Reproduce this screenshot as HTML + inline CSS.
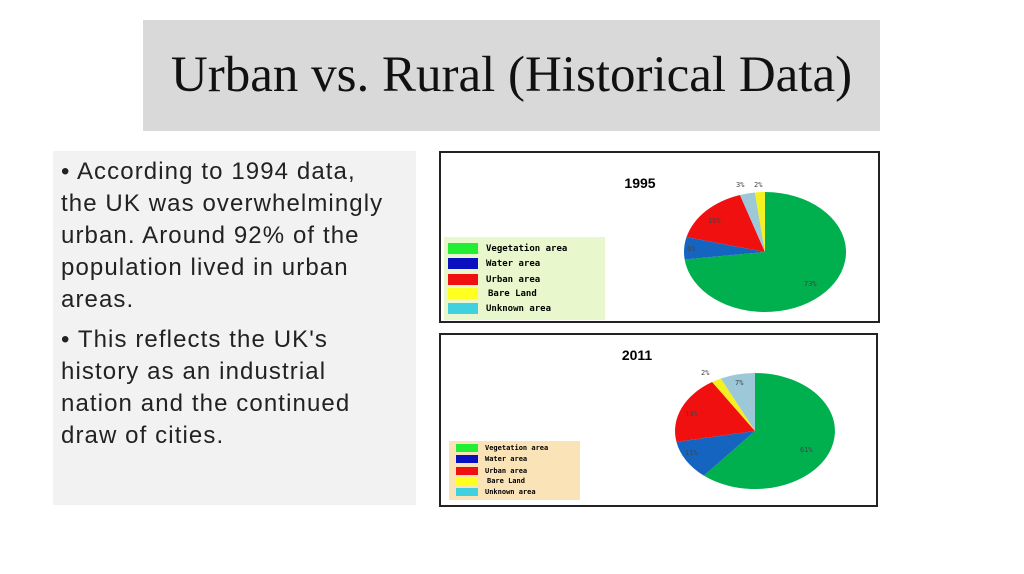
<!DOCTYPE html>
<html><head><meta charset="utf-8"><style>
body{margin:0;width:1024px;height:574px;background:#fff;position:relative;overflow:hidden}
.t{position:absolute;left:143px;top:20px;width:737px;height:111px;background:#d9d9d9;font:51px "Liberation Serif",serif;color:#111;text-align:center;line-height:111px;white-space:nowrap}
.l{position:absolute;left:53px;top:151px;width:363px;height:354px;background:#f2f2f2;font:24px "Liberation Sans",sans-serif;letter-spacing:1.1px;color:#222;line-height:32px;box-sizing:border-box;padding:5px 0 0 8px;white-space:nowrap;overflow:hidden}
.l p{margin:0 0 8px 0}
</style></head><body>
<div class="t">Urban vs. Rural (Historical Data)</div>
<div class="l"><p>• According to 1994 data,<br>the UK was overwhelmingly<br>urban. Around 92% of the<br>population lived in urban<br>areas.</p><p>• This reflects the UK's<br>history as an industrial<br>nation and the continued<br>draw of cities.</p></div>
<svg style="position:absolute;left:0;top:0" width="1024" height="574" font-family="DejaVu Sans Mono, monospace" font-weight="bold">
<rect x="440" y="152" width="439" height="170" fill="#fff" stroke="#222" stroke-width="2"/>
<rect x="440" y="334" width="437" height="172" fill="#fff" stroke="#222" stroke-width="2"/>
<text x="640" y="188" font-family="Liberation Sans,sans-serif" font-size="14" text-anchor="middle">1995</text>
<text x="637" y="360" font-family="Liberation Sans,sans-serif" font-size="14" text-anchor="middle">2011</text>
<g transform="translate(765,252) scale(81,60)">
<path d="M0 0L0 -1A1 1 0 1 1 -0.992 0.125Z" fill="#00b04f"/>
<path d="M0 0L-0.992 0.125A1 1 0 0 1 -0.969 -0.249Z" fill="#1565c0"/>
<path d="M0 0L-0.969 -0.249A1 1 0 0 1 -0.309 -0.951Z" fill="#f01010"/>
<path d="M0 0L-0.309 -0.951A1 1 0 0 1 -0.125 -0.992Z" fill="#9cc8d8"/>
<path d="M0 0L-0.125 -0.992A1 1 0 0 1 0 -1Z" fill="#f5f020"/>
</g>
<g transform="translate(755,431) scale(80,58)">
<path d="M0 0L0 -1A1 1 0 1 1 -0.639 0.770Z" fill="#00b04f"/>
<path d="M0 0L-0.639 0.770A1 1 0 0 1 -0.982 0.187Z" fill="#1565c0"/>
<path d="M0 0L-0.982 0.187A1 1 0 0 1 -0.536 -0.844Z" fill="#f01010"/>
<path d="M0 0L-0.536 -0.844A1 1 0 0 1 -0.426 -0.905Z" fill="#f5f020"/>
<path d="M0 0L-0.426 -0.905A1 1 0 0 1 0 -1Z" fill="#9cc8d8"/>
</g>
<g font-size="7" fill="#444" font-weight="normal">
<text x="736" y="187">3%</text><text x="754" y="187">2%</text>
<text x="708" y="223">16%</text><text x="687" y="251">6%</text><text x="804" y="286">73%</text>
<text x="701" y="375">2%</text><text x="735" y="385">7%</text>
<text x="685" y="416">19%</text><text x="685" y="455">11%</text><text x="800" y="452">61%</text>
</g>
<rect x="444" y="237" width="161" height="83" fill="#e8f8cc"/>
<g font-size="9">
<rect x="448" y="243" width="30" height="11" fill="#22ee33"/><text x="486" y="251">Vegetation area</text>
<rect x="448" y="258" width="30" height="11" fill="#0a10c0"/><text x="486" y="266">Water area</text>
<rect x="448" y="274" width="30" height="11" fill="#f01010"/><text x="486" y="282">Urban area</text>
<rect x="448" y="288" width="30" height="11" fill="#ffff20"/><text x="488" y="296">Bare Land</text>
<rect x="448" y="303" width="30" height="11" fill="#40d0e0"/><text x="486" y="311">Unknown area</text>
</g>
<rect x="449" y="441" width="131" height="59" fill="#fbe3b8"/>
<g font-size="7">
<rect x="456" y="444" width="22" height="8" fill="#22ee33"/><text x="485" y="450">Vegetation area</text>
<rect x="456" y="455" width="22" height="8" fill="#0a10c0"/><text x="485" y="461">Water area</text>
<rect x="456" y="467" width="22" height="8" fill="#f01010"/><text x="485" y="473">Urban area</text>
<rect x="456" y="477" width="22" height="8" fill="#ffff20"/><text x="487" y="483">Bare Land</text>
<rect x="456" y="488" width="22" height="8" fill="#40d0e0"/><text x="485" y="494">Unknown area</text>
</g>
</svg>
</body></html>
